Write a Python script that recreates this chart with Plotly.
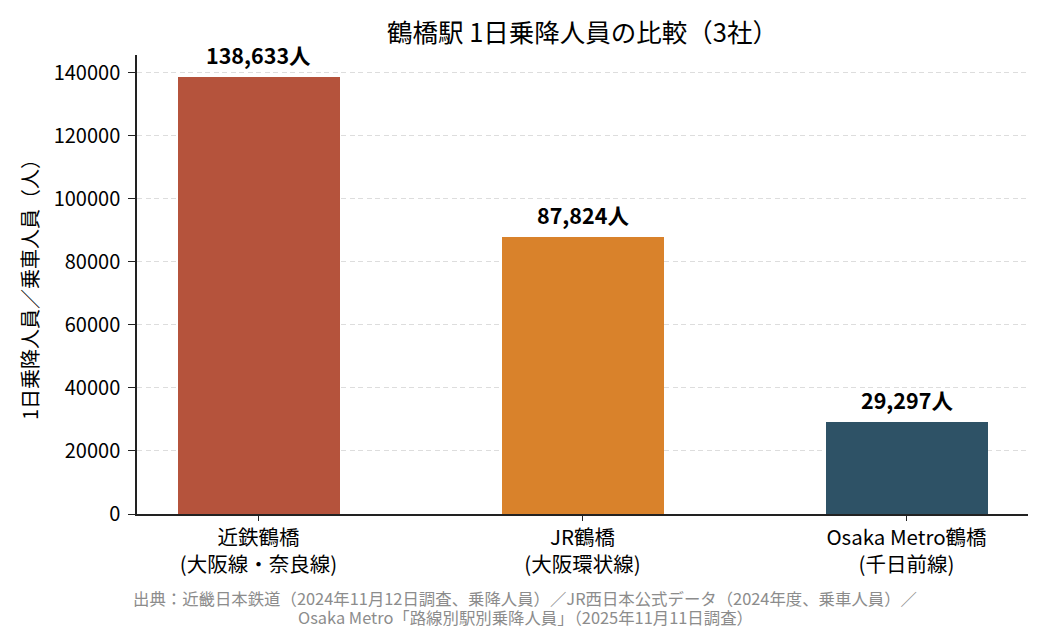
import plotly.graph_objects as go

FONT = "Noto Sans CJK JP"

stations = ["近鉄鶴橋<br>(大阪線・奈良線)", "JR鶴橋<br>(大阪環状線)", "Osaka Metro鶴橋<br>(千日前線)"]
riders = [138633, 87824, 29297]
colors = ["#b5533c", "#d9822b", "#2e5266"]
y_ticks = [0, 20000, 40000, 60000, 80000, 100000, 120000, 140000]

source_lines = [
    "出典：近畿日本鉄道（2024年11月12日調査、乗降人員）／JR西日本公式データ（2024年度、乗車人員）／",
    "Osaka Metro「路線別駅別乗降人員」（2025年11月11日調査）",
]

x = list(range(len(stations)))

fig = go.Figure(go.Bar(
    x=x, y=riders, width=0.5,
    marker=dict(color=colors, line=dict(width=0)),
    hoverinfo="skip",
))

# value labels above the bars
for xi, v in zip(x, riders):
    fig.add_annotation(x=xi, y=v, text=f"<b>{v:,}人</b>", showarrow=False,
                       yanchor="bottom", yshift=5,
                       font=dict(family=FONT, size=21.5, color="black"))

# source note, centred on the whole figure
plot_l, plot_r = 137, 1028
x_mid = (525 - plot_l) / (plot_r - plot_l)
for i, line in enumerate(source_lines):
    fig.add_annotation(xref="paper", yref="paper", x=x_mid, y=-(598 + 19 * i - 514) / 459,
                       yanchor="middle", text=line, showarrow=False,
                       font=dict(family=FONT, size=16.4, color="#8c8c8c"))

fig.update_layout(
    width=1050, height=630,
    paper_bgcolor="white", plot_bgcolor="white",
    margin=dict(l=plot_l, r=1050 - plot_r, t=55, b=116),
    font=dict(family=FONT, size=16, color="black"),
    title=dict(text="鶴橋駅 1日乗降人員の比較（3社）", x=0.5, xref="paper",
               y=1 - 33 / 630, yanchor="middle",
               font=dict(family=FONT, size=25.5, color="black")),
    showlegend=False,
    bargap=0,
)

fig.update_xaxes(
    range=[-0.375, 2.375], tickmode="array", tickvals=x, ticktext=stations,
    showline=True, linecolor="#222", linewidth=1.5,
    ticks="outside", ticklen=5, tickcolor="#222",
    showgrid=False, zeroline=False,
    tickfont=dict(family=FONT, size=20.5),
)
fig.update_yaxes(
    range=[0, max(riders) * 1.05], tickmode="array", tickvals=y_ticks,
    ticktext=[str(t) for t in y_ticks],
    showline=True, linecolor="#222", linewidth=1.5,
    ticks="outside", ticklen=7, tickcolor="#222", ticklabelstandoff=4,
    showgrid=True, gridcolor="#dddddd", griddash="5px,3.5px", gridwidth=1,
    zeroline=False,
    tickfont=dict(family=FONT, size=20),
    title=dict(text="1日乗降人員／乗車人員（人）", standoff=10,
               font=dict(family=FONT, size=20)),
)

fig.write_html("out.html", config={"displayModeBar": False},
               post_script="document.body.style.margin='0';")
